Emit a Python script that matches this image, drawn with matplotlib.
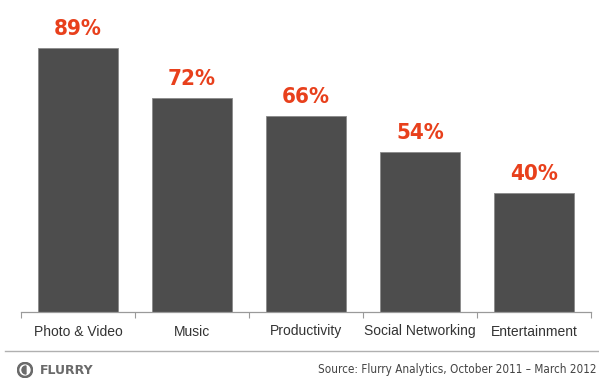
import matplotlib.pyplot as plt
from matplotlib.patches import Circle, Wedge

categories = ["Photo & Video", "Music", "Productivity", "Social Networking", "Entertainment"]
shares = [89, 72, 66, 54, 40]
source_note = "Source: Flurry Analytics, October 2011 \u2013 March 2012"

BAR = "#4d4d4d"
RED = "#e8401c"
GREY = "#9a9a9a"

fig = plt.figure(figsize=(5.99, 3.81), dpi=100)
ax = fig.add_axes([21 / 599, 69 / 381, 570 / 599, 307 / 381])

x = range(len(categories))
ax.bar(x, shares, width=0.71, color=BAR, edgecolor="#8a8a8a", linewidth=0.6)

for i, v in enumerate(shares):
    ax.text(i, v + 3.0, f"{v}%", ha="center", va="bottom", color=RED,
            fontsize=16, fontweight="bold", fontstretch="condensed",
            family="DejaVu Sans")

ax.set_xlim(-0.5, len(categories) - 0.5)
ax.set_ylim(0, 103.4)

# category boundaries get the small ticks, labels sit under the bars
ax.set_xticks([i - 0.5 for i in range(len(categories) + 1)])
ax.set_xticklabels([])
ax.set_xticks(list(x), minor=True)
ax.set_xticklabels(categories, minor=True, fontsize=10, color="#333333",
                   family="Liberation Sans")
ax.tick_params(axis="x", which="major", length=4, color=GREY, width=0.8)
ax.tick_params(axis="x", which="minor", length=0, pad=9)
ax.set_yticks([])

for side in ("top", "right", "left"):
    ax.spines[side].set_visible(False)
ax.spines["bottom"].set_color(GREY)
ax.spines["bottom"].set_linewidth(0.9)

# footer: separator, logo and source note
fig.add_artist(plt.Line2D([5 / 599, 1.0], [1 - 351 / 381] * 2, color="#b0b0b0",
                          linewidth=1.0, transform=fig.transFigure))

logo = fig.add_axes([17 / 599, 3 / 381, 16 / 599, 16 / 381])
logo.set_xlim(-1, 1)
logo.set_ylim(-1, 1)
logo.set_aspect("equal")
logo.axis("off")
logo.add_patch(Circle((0, 0), 0.95, color="#6a6a6a"))
logo.add_patch(Circle((0, 0), 0.62, color="white"))
logo.add_patch(Wedge((0.12, 0), 0.5, 90, 270, color="#6a6a6a"))

fig.text(40 / 599, 1 - 370 / 381, "FLURRY", ha="left", va="center", fontsize=9,
         fontweight="bold", color="#6a6a6a", family="DejaVu Sans")
fig.text(597 / 599, 1 - 369 / 381, source_note, ha="right", va="center",
         fontsize=8.4, color="#444444", family="DejaVu Sans", fontstretch="condensed")

fig.savefig("out.png", dpi=100)
